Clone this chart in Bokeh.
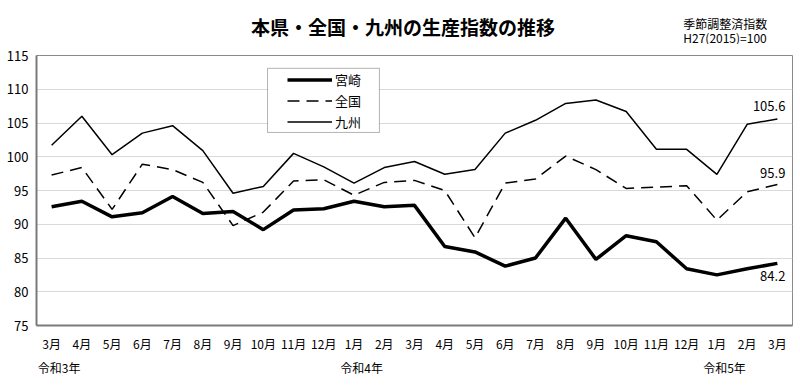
from bokeh.plotting import figure
from bokeh.models import (FixedTicker, Range1d, Label, Legend, LegendItem, BoxAnnotation,
                          LinearAxis)
from bokeh.layouts import column
from bokeh.core.properties import value
from bokeh.embed import file_html
from bokeh.resources import INLINE

# ---- data ----
months = ["3月", "4月", "5月", "6月", "7月", "8月", "9月", "10月", "11月", "12月", "1月", "2月",
          "3月", "4月", "5月", "6月", "7月", "8月", "9月", "10月", "11月", "12月", "1月", "2月", "3月"]
years = ["令和3年", "令和4年", "令和5年"]
year_pos = [0, 10, 22]

miyazaki = [92.6, 93.4, 91.1, 91.7, 94.1, 91.6, 91.9, 89.2, 92.1, 92.3, 93.4, 92.6,
            92.8, 86.7, 85.9, 83.8, 85.0, 90.9, 84.8, 88.3, 87.4, 83.4, 82.5, 83.4, 84.2]
zenkoku = [97.3, 98.4, 92.2, 98.9, 98.1, 96.2, 89.8, 91.8, 96.4, 96.6, 94.3, 96.2,
           96.5, 95.0, 88.0, 96.1, 96.7, 100.1, 98.1, 95.3, 95.5, 95.7, 90.6, 94.8, 95.9]
kyushu = [101.7, 106.0, 100.3, 103.5, 104.6, 100.9, 94.6, 95.6, 100.5, 98.5, 96.1, 98.4,
          99.3, 97.4, 98.1, 103.5, 105.4, 107.9, 108.4, 106.7, 101.1, 101.1, 97.4, 104.8, 105.6]
series_names = ["宮崎", "全国", "九州"]
y_ticks = [75, 80, 85, 90, 95, 100, 105, 110, 115]

title_text = "本県・全国・九州の生産指数の推移"
note1 = "季節調整済指数"
note2 = "H27(2015)=100"

FONT = "Noto Sans CJK JP"
W = 796
HEAD_H = 44
x = list(range(len(months)))

# ---- header strip (title + notes) ----
head = figure(width=W, height=HEAD_H, output_backend="svg", toolbar_location=None,
              x_range=Range1d(0, W), y_range=Range1d(HEAD_H, 0),
              min_border=0, x_axis_type=None, y_axis_type=None)
head.outline_line_color = None
head.grid.visible = False
head.background_fill_color = "white"
head.border_fill_color = "white"
head.text(x=[386], y=[25.5], text=[title_text], text_align="center", text_baseline="middle",
          text_font=value(FONT), text_font_size="19px", text_font_style="bold",
          text_color="black")
head.text(x=[681, 681], y=[23, 36.5], text=[note1, note2], text_align="left",
          text_baseline="middle", text_font=value(FONT), text_font_size="12px",
          text_color="black")

# ---- main chart ----
p = figure(width=W, height=326 - HEAD_H + 55, output_backend="svg", toolbar_location=None,
           x_range=Range1d(-0.5, len(months) - 0.5), y_range=Range1d(75, 115),
           min_border_left=36, min_border_right=4, min_border_top=55 - HEAD_H,
           min_border_bottom=56)
p.background_fill_color = "white"
p.border_fill_color = "white"
p.outline_line_color = "#8a8a8a"
p.outline_line_width = 1

p.xaxis.ticker = FixedTicker(ticks=x)
p.xaxis.major_label_overrides = {i: m for i, m in enumerate(months)}
p.yaxis.ticker = FixedTicker(ticks=y_ticks)
for ax in (p.xaxis[0], p.yaxis[0]):
    ax.axis_line_color = "#7a7a7a"
    ax.axis_line_width = 2
    ax.major_tick_line_color = None
    ax.minor_tick_line_color = None
    ax.major_tick_out = 0
    ax.major_label_text_font = FONT
    ax.major_label_text_color = "black"
p.xaxis.major_label_text_font_size = "12px"
p.xaxis.major_label_standoff = 9
p.yaxis.major_label_text_font_size = "13px"
p.yaxis.major_label_standoff = 8

# year labels as a second bottom axis
year_axis = LinearAxis(ticker=FixedTicker(ticks=[yp + 0.25 for yp in year_pos]),
                       major_label_overrides={yp + 0.25: yt for yp, yt in zip(year_pos, years)},
                       axis_line_color=None, major_tick_line_color=None,
                       minor_tick_line_color=None, major_tick_out=0,
                       major_label_standoff=4, major_label_text_font=FONT,
                       major_label_text_font_size="12px", major_label_text_color="black")
p.add_layout(year_axis, "below")

p.xgrid.grid_line_color = None
p.ygrid.grid_line_color = "#d9d9d9"
p.ygrid.grid_line_width = 1

r_m = p.line(x, miyazaki, line_color="black", line_width=3.5)
r_z = p.line(x, zenkoku, line_color="black", line_width=1.5, line_dash="12 7")
r_k = p.line(x, kyushu, line_color="black", line_width=1.5)

# legend with its own frame
box = BoxAnnotation(left=7.14, right=10.84, top=113.1, bottom=103.6,
                    fill_color="white", fill_alpha=1.0, line_color="black", line_width=1,
                    level="overlay")
p.add_layout(box)
legend = Legend(items=[LegendItem(label=series_names[0], renderers=[r_m]),
                       LegendItem(label=series_names[1], renderers=[r_z]),
                       LegendItem(label=series_names[2], renderers=[r_k])],
                location=(251, 193), border_line_color=None, background_fill_alpha=0,
                padding=0, spacing=0, margin=0, glyph_width=45, glyph_height=21,
                label_height=21, label_standoff=3, label_text_font=FONT,
                label_text_font_size="13px", label_text_color="black")
p.add_layout(legend)

last = len(months) - 1
for val, dy in ((kyushu[-1], 13), (zenkoku[-1], 11), (miyazaki[-1], -13)):
    p.add_layout(Label(x=last, y=val, text=f"{val}", x_offset=8, y_offset=dy,
                       text_align="right", text_baseline="middle", text_font=FONT,
                       text_font_size="13px", text_color="black"))

open("out.html", "w").write(file_html(column(head, p, spacing=0), INLINE))
